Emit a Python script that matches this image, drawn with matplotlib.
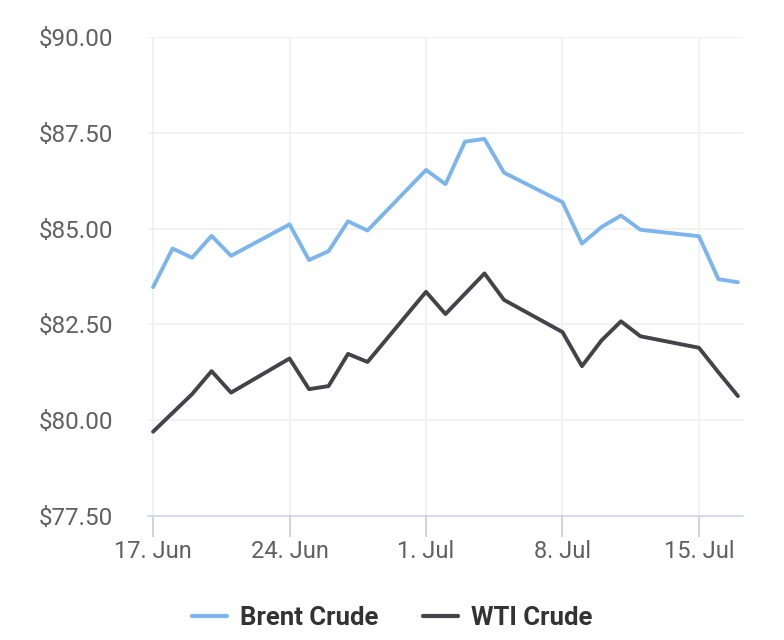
import pandas as pd
import matplotlib
matplotlib.use('Agg')
import matplotlib.pyplot as plt
import matplotlib.dates as mdates

plt.rcParams['font.family'] = ['Roboto', 'DejaVu Sans']

# trading days, 17 Jun - 17 Jul 2024
dates = ['2024-06-17', '2024-06-18', '2024-06-19', '2024-06-20', '2024-06-21',
         '2024-06-24', '2024-06-25', '2024-06-26', '2024-06-27', '2024-06-28',
         '2024-07-01', '2024-07-02', '2024-07-03', '2024-07-04', '2024-07-05',
         '2024-07-08', '2024-07-09', '2024-07-10', '2024-07-11', '2024-07-12',
         '2024-07-15', '2024-07-16', '2024-07-17']
brent = [83.47, 84.48, 84.24, 84.81, 84.29,
         85.11, 84.18, 84.41, 85.19, 84.95,
         86.53, 86.16, 87.27, 87.34, 86.46,
         85.69, 84.61, 85.04, 85.34, 84.97,
         84.80, 83.68, 83.60]
wti = [79.70, 80.19, 80.68, 81.28, 80.72,
       81.61, 80.81, 80.89, 81.73, 81.52,
       83.35, 82.77, 83.30, 83.83, 83.14,
       82.30, 81.41, 82.08, 82.58, 82.19,
       81.89, 81.25, 80.63]
yticks = [77.5, 80, 82.5, 85, 87.5, 90]

df = pd.DataFrame({'Brent Crude': brent, 'WTI Crude': wti}, index=pd.to_datetime(dates))

fig = plt.figure(figsize=(7.84, 6.4), dpi=100)
ax = fig.add_axes([148/784, 1 - 516/640, (743 - 148)/784, (516 - 37)/640])

ax.plot(df.index, df['Brent Crude'], color='#7cb5ec', lw=2.8, label='Brent Crude',
        solid_joinstyle='round', solid_capstyle='round')
ax.plot(df.index, df['WTI Crude'], color='#434348', lw=2.8, label='WTI Crude',
        solid_joinstyle='round', solid_capstyle='round')

start = df.index[0]
ax.set_xlim(start - pd.Timedelta(days=0.26), start + pd.Timedelta(days=30.26))
ax.set_ylim(77.5, 90)
ax.set_yticks(yticks)
ax.yaxis.set_major_formatter(plt.FuncFormatter(lambda v, p: '${:.2f}'.format(v)))

ax.xaxis.set_major_locator(mdates.WeekdayLocator(byweekday=mdates.MO))
ax.xaxis.set_major_formatter(mdates.DateFormatter('%-d. %b'))

ax.grid(True, color='#f0f0f2', lw=1.2)
ax.set_axisbelow(True)
for s in ['top', 'right', 'left']:
    ax.spines[s].set_visible(False)
ax.spines['bottom'].set_color('#ccd6eb')
ax.spines['bottom'].set_linewidth(1.2)

ax.tick_params(axis='y', length=0, pad=25, labelsize=17.5, labelcolor='#606060')
ax.tick_params(axis='x', length=15, width=1.2, color='#cccccc', pad=2,
               labelsize=17, labelcolor='#606060')

leg = fig.legend(loc='center', bbox_to_anchor=(0.5, 1 - 618/640), ncol=2, frameon=False,
                 handlelength=1.35, handletextpad=0.5, columnspacing=1.75,
                 prop={'weight': 'bold', 'size': 18.5})
for t in leg.get_texts():
    t.set_color('#333333')
for h in leg.get_lines():
    h.set_linewidth(3)

fig.savefig('out.png', dpi=100)
